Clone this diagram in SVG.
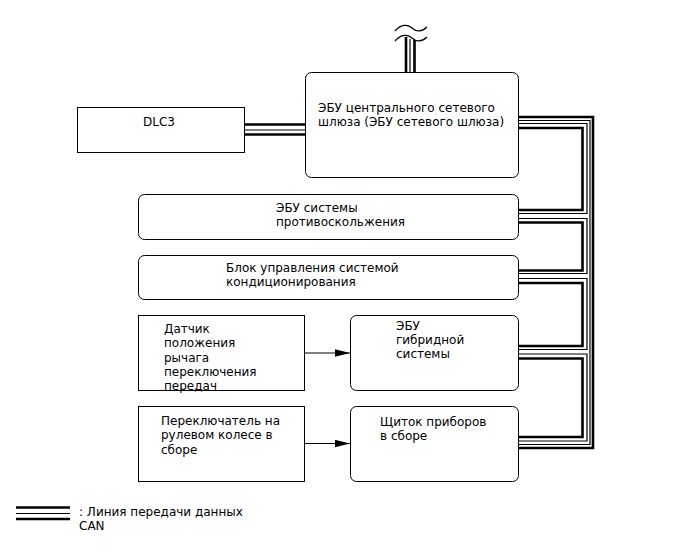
<svg xmlns="http://www.w3.org/2000/svg" width="688" height="560" viewBox="0 0 688 560">
<style>
.box{fill:#fff;stroke:#000;stroke-width:1}
.t{font-family:"DejaVu Sans","Noto Sans",sans-serif;font-size:12px;fill:#000}
.bk{fill:none;stroke:#000;stroke-width:2.6}
.bn{fill:none;stroke:#000;stroke-width:1.2}
.ar{fill:none;stroke:#000;stroke-width:1}
</style>
<defs>
<marker id="ah" markerWidth="16" markerHeight="8" refX="15" refY="4" orient="auto" markerUnits="userSpaceOnUse">
<polygon points="0,0.3 15,4 0,7.7" fill="#000"/>
</marker>
</defs>
<rect width="688" height="560" fill="#fff"/>
<g id="connectors">
<!-- antenna -->
<path class="bk" d="M406,37 V72"/>
<path class="bn" d="M410,39 V72"/>
<path class="bk" d="M414.5,40 V72"/>
<path class="bn" d="M395,31 C401,24 408,24 412,28 C416,32 422,32 427,27"/>
<path class="bn" d="M395,41 C401,34 408,34 412,38 C416,42 422,42 427,37"/>
<!-- DLC3 link -->
<path class="bk" d="M244,124.5 H305"/>
<path class="bn" d="M244,130 H305"/>
<path class="bk" d="M244,134.5 H305"/>
<!-- outer bus -->
<path class="bk" d="M519,117 H593 V448 H519"/>
<path class="bn" d="M519,120.5 H590 V444.5 H519"/>
<!-- links -->
<path class="bn" d="M519,123.5 H587 V213.5 H519"/>
<path class="bk" d="M519,128 H582.5 V210 H519"/>
<path class="bn" d="M519,218.5 H587 V273.5 H519"/>
<path class="bk" d="M519,222.5 H582.5 V270.5 H519"/>
<path class="bn" d="M519,278.5 H587 V349.5 H519"/>
<path class="bk" d="M519,283 H582.5 V346 H519"/>
<path class="bn" d="M519,354 H587 V441 H519"/>
<path class="bk" d="M519,358.5 H582.5 V437 H519"/>
<!-- arrows -->
<line class="ar" x1="305" y1="353" x2="350" y2="353" marker-end="url(#ah)"/>
<line class="ar" x1="305" y1="443.5" x2="350" y2="443.5" marker-end="url(#ah)"/>
</g>
<g id="dlc3">
<rect class="box" x="77.5" y="107.5" width="167" height="45"/>
<text class="t" x="143" y="126">DLC3</text>
</g>
<g id="gateway">
<rect class="box" x="305.5" y="72.5" width="213" height="105" rx="6"/>
<text class="t" x="318" y="112">ЭБУ центрального сетевого</text>
<text class="t" x="318" y="126">шлюза (ЭБУ сетевого шлюза)</text>
</g>
<g id="antiskid">
<rect class="box" x="138.5" y="194.5" width="380" height="45" rx="6"/>
<text class="t" x="276" y="211.5">ЭБУ системы</text>
<text class="t" x="276" y="225.5">противоскольжения</text>
</g>
<g id="climate">
<rect class="box" x="138.5" y="255.5" width="380" height="44" rx="6"/>
<text class="t" x="226" y="271.5">Блок управления системой</text>
<text class="t" x="226" y="285.5">кондиционирования</text>
</g>
<g id="shift">
<rect class="box" x="138.5" y="315.5" width="166" height="75"/>
<text class="t" x="164" y="332.5">Датчик</text>
<text class="t" x="164" y="347">положения</text>
<text class="t" x="164" y="361.5">рычага</text>
<text class="t" x="164" y="375.5">переключения</text>
<text class="t" x="164" y="389.5">передач</text>
</g>
<g id="hybrid">
<rect class="box" x="350.5" y="315.5" width="168" height="75" rx="6"/>
<text class="t" x="396" y="329.5">ЭБУ</text>
<text class="t" x="396" y="343.5">гибридной</text>
<text class="t" x="396" y="357.5">системы</text>
</g>
<g id="steering">
<rect class="box" x="138.5" y="406.5" width="166" height="75"/>
<text class="t" x="161" y="424.5">Переключатель на</text>
<text class="t" x="161" y="439">рулевом колесе в</text>
<text class="t" x="161" y="453.5">сборе</text>
</g>
<g id="meter">
<rect class="box" x="350.5" y="406.5" width="168" height="75" rx="6"/>
<text class="t" x="380" y="425.5">Щиток приборов</text>
<text class="t" x="380" y="439.5">в сборе</text>
</g>
<g id="legend">
<path class="bk" d="M16,507.5 H70"/>
<path class="bn" d="M16,513.5 H70"/>
<path class="bk" d="M16,519 H70"/>
<text class="t" x="79" y="515.5">: Линия передачи данных</text>
<text class="t" x="79" y="530">CAN</text>
</g>
</svg>
